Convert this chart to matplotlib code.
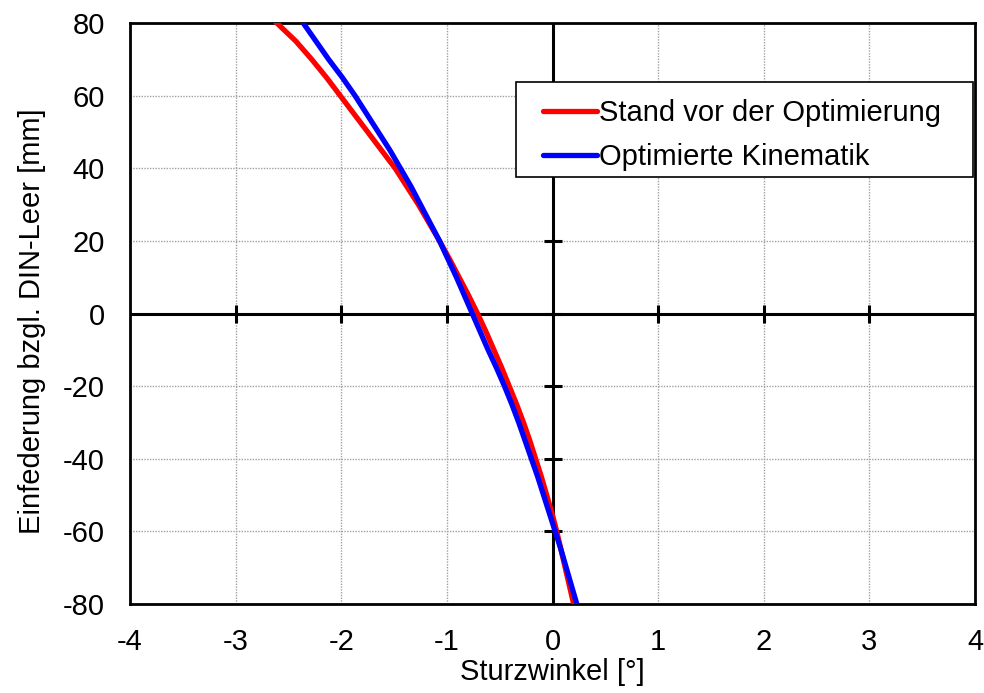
import matplotlib
matplotlib.use("Agg")
import matplotlib.pyplot as plt
from matplotlib.patches import Rectangle

plt.rcParams['font.family'] = ['Liberation Sans', 'DejaVu Sans']

y_mm = [80, 75, 70, 65, 60, 55, 50, 45, 40, 35, 30, 25, 20, 15, 10, 5, 0,
        -5, -10, -15, -20, -25, -30, -35, -40, -45, -50, -55, -60, -65, -70, -75, -80]
red_x = [-2.61, -2.43, -2.28, -2.14, -2.01, -1.88, -1.75, -1.62, -1.49, -1.38,
         -1.27, -1.17, -1.07, -0.975, -0.885, -0.795, -0.71, -0.63, -0.555, -0.48,
         -0.41, -0.34, -0.275, -0.215, -0.16, -0.105, -0.055, -0.005, 0.04, 0.08,
         0.12, 0.16, 0.20]
blue_x = [-2.36, -2.24, -2.12, -1.99, -1.87, -1.76, -1.65, -1.54, -1.44, -1.34,
          -1.25, -1.16, -1.07, -0.99, -0.91, -0.835, -0.76, -0.685, -0.61, -0.53,
          -0.455, -0.385, -0.32, -0.26, -0.20, -0.14, -0.085, -0.03, 0.025, 0.08,
          0.13, 0.18, 0.23]
series_names = ["Stand vor der Optimierung", "Optimierte Kinematik"]
x_ticks = [-4, -3, -2, -1, 0, 1, 2, 3, 4]
y_ticks = [-80, -60, -40, -20, 0, 20, 40, 60, 80]
x_label = "Sturzwinkel [°]"
y_label = "Einfederung bzgl. DIN-Leer [mm]"

FS = 21

fig = plt.figure(figsize=(9.84, 6.93), dpi=100)
ax = fig.add_axes([0.1321, 0.1284, 0.8588, 0.8384])
ax.set_xlim(-4, 4)
ax.set_ylim(-80, 80)
ax.set_xticks(x_ticks)
ax.set_yticks(y_ticks)
ax.set_xticklabels([str(t) for t in x_ticks])
ax.set_yticklabels([str(t) for t in y_ticks])
ax.tick_params(length=0, labelsize=FS)
ax.tick_params(axis='x', pad=17)
ax.tick_params(axis='y', pad=18)
ax.grid(True, color='#a0a0a0', linestyle=(0, (1, 1)), linewidth=1.0)
for s in ax.spines.values():
    s.set_linewidth(2)
    s.set_color('black')

# zero axes with crossing tick marks
ax.axhline(0, color='black', lw=2.2, zorder=2)
ax.axvline(0, color='black', lw=2.2, zorder=2)
xt = [t for t in x_ticks if t not in (-4, 0, 4)]
yt = [t for t in y_ticks if t not in (-80, 80)]
ax.plot(xt, [0] * len(xt), linestyle='none', marker='|', markersize=13,
        markeredgewidth=2.2, color='black', zorder=2)
ax.plot([0] * len(yt), yt, linestyle='none', marker='_', markersize=13,
        markeredgewidth=2.2, color='black', zorder=2)

ax.plot(red_x, y_mm, color='#ff0000', lw=3.8, label=series_names[0], zorder=3,
        solid_joinstyle='round')
ax.plot(blue_x, y_mm, color='#0000ff', lw=3.8, label=series_names[1], zorder=4,
        solid_joinstyle='round')

# legend frame
ax.add_patch(Rectangle((0.457, 0.735), 0.540, 0.163, transform=ax.transAxes,
                       facecolor='white', edgecolor='black', linewidth=1.2,
                       zorder=5))
leg = ax.legend(loc='upper left', bbox_to_anchor=(0.4888, 0.8692), fontsize=FS,
                frameon=False, handlelength=1.85, handletextpad=0.08,
                borderpad=0, labelspacing=0.56, borderaxespad=0)
leg.set_zorder(6)
for h in leg.get_lines():
    h.set_solid_capstyle('round')

ax.set_xlabel(x_label, fontsize=FS, labelpad=2)
ax.set_ylabel(y_label, fontsize=FS, labelpad=12)
ax.yaxis.label.set_y(0.486)

fig.savefig("out.png", dpi=100)
